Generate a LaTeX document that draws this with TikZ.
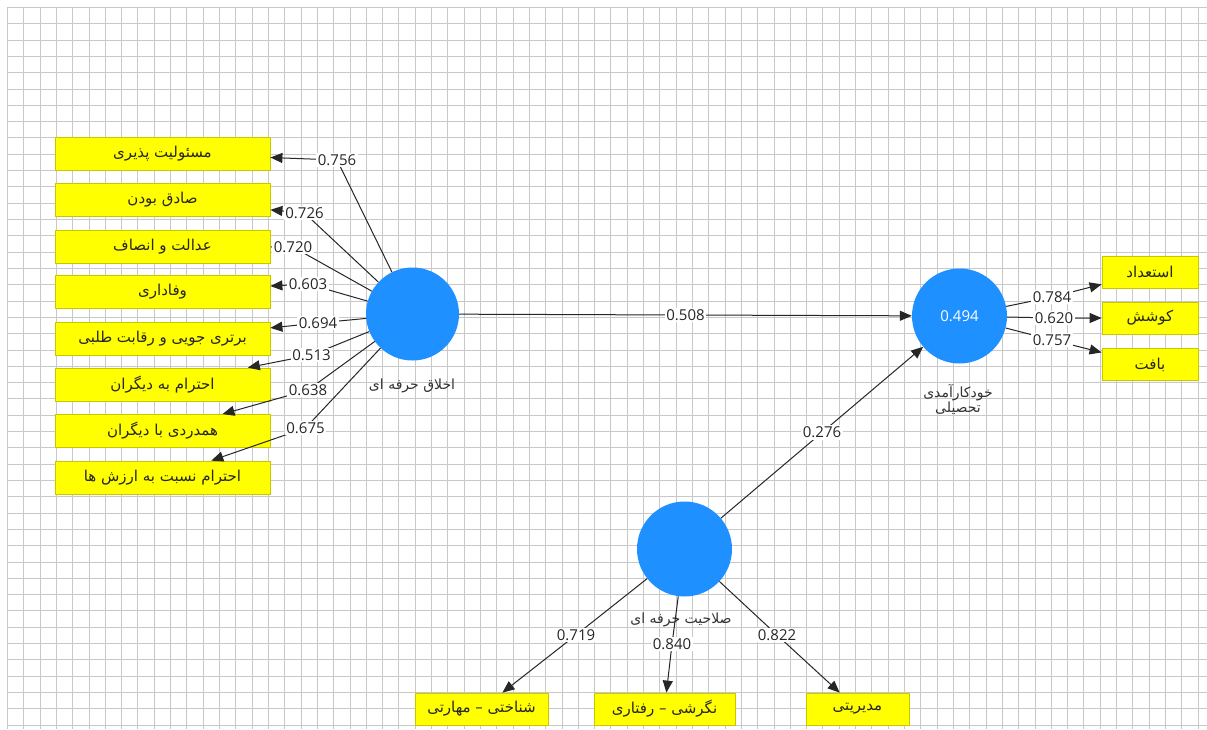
\documentclass[tikz,border=0pt]{standalone}
\usepackage{fontspec}
\setmainfont{Open Sans}
\newfontfamily\fa[Script=Arabic]{DejaVu Sans}
\TeXXeTstate=1
\usetikzlibrary{arrows.meta}
\definecolor{lvblue}{RGB}{30,144,255}
\definecolor{indfill}{RGB}{255,255,0}
\definecolor{indline}{RGB}{200,200,0}
\definecolor{gridc}{RGB}{200,200,200}
\newcommand{\fat}[1]{{\fa\beginR #1\endR}}
\tikzset{
  lv/.style={circle, fill=lvblue, minimum size=94pt, inner sep=0pt},
  indbox/.style={draw=indline, fill=indfill, line width=0.8pt, minimum height=32pt, inner sep=0pt,
    font=\fa\fontsize{15}{17}\selectfont, text=black!85},
  conn/.style={draw=black!85, line width=1pt},
  arr/.style={conn, -{Triangle[length=12pt,width=10pt]}},
  lbl/.style={fill=white, inner sep=1.5pt, font=\fontsize{15}{17}\selectfont, text=black!85},
  lvname/.style={font=\fa\fontsize{14}{16}\selectfont, text=black!80, align=center},
  gridline/.style={gridc, line width=1.2pt},
}
\begin{document}
\begin{tikzpicture}[x=1pt,y=-1pt]
\useasboundingbox (0,0) rectangle (1207,729);
\fill[white] (0,0) rectangle (1207,729);
% grid
\foreach \i in {0,...,73} {
  \pgfmathsetmacro{\gx}{round(7+\i*16.31)+0.5}
  \draw[gridline] (\gx,7) -- (\gx,729);
}
\foreach \j in {0,...,44} {
  \pgfmathsetmacro{\gy}{round(7+\j*16.31)+0.5}
  \draw[gridline] (7,\gy) -- (1207,\gy);
}

% latent variables
\node[lv, minimum size=93pt] (c1) at (412.5,314) {};
\node[lv, minimum size=95pt, text=white, font=\fontsize{15}{17}\selectfont] (c2) at (959.5,316) {0.494};
\node[lv, minimum size=95pt] (c3) at (684.5,549) {};
\node[lvname] (c1n) at (412,386) {\fat{اخلاق حرفه ای}};
\node[lvname] (c2n) at (958,399) {\fat{خودکارآمدی}\\[-1pt]\fat{تحصیلی}};
\node[lvname] (c3n) at (681,620) {\fat{صلاحیت حرفه ای}};

% left indicators
\node[indbox, minimum width=215pt, minimum height=33pt] (L1) at (162.5,153.5) {\fat{مسئولیت پذیری}};
\node[indbox, minimum width=215pt, minimum height=33pt] (L2) at (162.5,200) {\fat{صادق بودن}};
\node[indbox, minimum width=215pt, minimum height=33pt] (L3) at (162.5,246.5) {\fat{عدالت و انصاف}};
\node[indbox, minimum width=215pt, minimum height=33pt] (L4) at (162.5,292) {\fat{وفاداری}};
\node[indbox, minimum width=215pt, minimum height=33pt] (L5) at (162.5,339) {\fat{برتری جویی و رقابت طلبی}};
\node[indbox, minimum width=215pt, minimum height=33pt] (L6) at (162.5,384.5) {\fat{احترام به دیگران}};
\node[indbox, minimum width=215pt, minimum height=33pt] (L7) at (162.5,431) {\fat{همدردی با دیگران}};
\node[indbox, minimum width=215pt, minimum height=33pt] (L8) at (162.5,477.5) {\fat{احترام نسبت به ارزش ها}};

% right indicators
\node[indbox, minimum width=96pt] (R1) at (1150,272) {\fat{استعداد}};
\node[indbox, minimum width=96pt] (R2) at (1150,318) {\fat{کوشش}};
\node[indbox, minimum width=96pt] (R3) at (1150,364.5) {\fat{بافت}};

% bottom indicators
\node[indbox, minimum width=133pt] (B1) at (481.5,709) {\fat{شناختی – مهارتی}};
\node[indbox, minimum width=141pt] (B2) at (664.5,709) {\fat{نگرشی – رفتاری}};
\node[indbox, minimum width=103pt] (B3) at (857.5,709) {\fat{مدیریتی}};

% label points
\coordinate (p1) at (337,160);
\coordinate (p2) at (304.5,213);
\coordinate (p3) at (293,247);
\coordinate (p4) at (308,284);
\coordinate (p5) at (318,323);
\coordinate (p6) at (311.5,355);
\coordinate (p7) at (308,390);
\coordinate (p8) at (305.5,428);
\coordinate (q1) at (1052,297);
\coordinate (q2) at (1054,318);
\coordinate (q3) at (1052,340);
\coordinate (s1) at (576,635);
\coordinate (s2) at (672,644);
\coordinate (s3) at (777,635);

% connectors
\foreach \p/\b in {p1/L1,p2/L2,p3/L3,p4/L4,p5/L5,p6/L6,p7/L7,p8/L8}
  \draw[arr] (c1) -- (\p) -- (\b);
\foreach \p/\b in {q1/R1,q2/R2,q3/R3}
  \draw[arr] (c2) -- (\p) -- (\b);
\foreach \p/\b in {s1/B1,s2/B2,s3/B3}
  \draw[arr] (c3) -- (\p) -- (\b);
\draw[arr] (c1) -- node[lbl] (m1) {0.508} (c2);
\draw[arr] (c3) -- node[lbl] (m2) {0.276} (c2);

% loading labels
\node[lbl] (n1) at (p1) {0.756};
\node[lbl] (n2) at (p2) {0.726};
\node[lbl] (n3) at (p3) {0.720};
\node[lbl] (n4) at (p4) {0.603};
\node[lbl] (n5) at (p5) {0.694};
\node[lbl] (n6) at (p6) {0.513};
\node[lbl] (n7) at (p7) {0.638};
\node[lbl] (n8) at (p8) {0.675};
\node[lbl] (k1) at (q1) {0.784};
\node[lbl] (k2) at (q2) {0.620};
\node[lbl] (k3) at (q3) {0.757};
\node[lbl] (t1) at (s1) {0.719};
\node[lbl] (t2) at (s2) {0.840};
\node[lbl] (t3) at (s3) {0.822};
\end{tikzpicture}
\end{document}
